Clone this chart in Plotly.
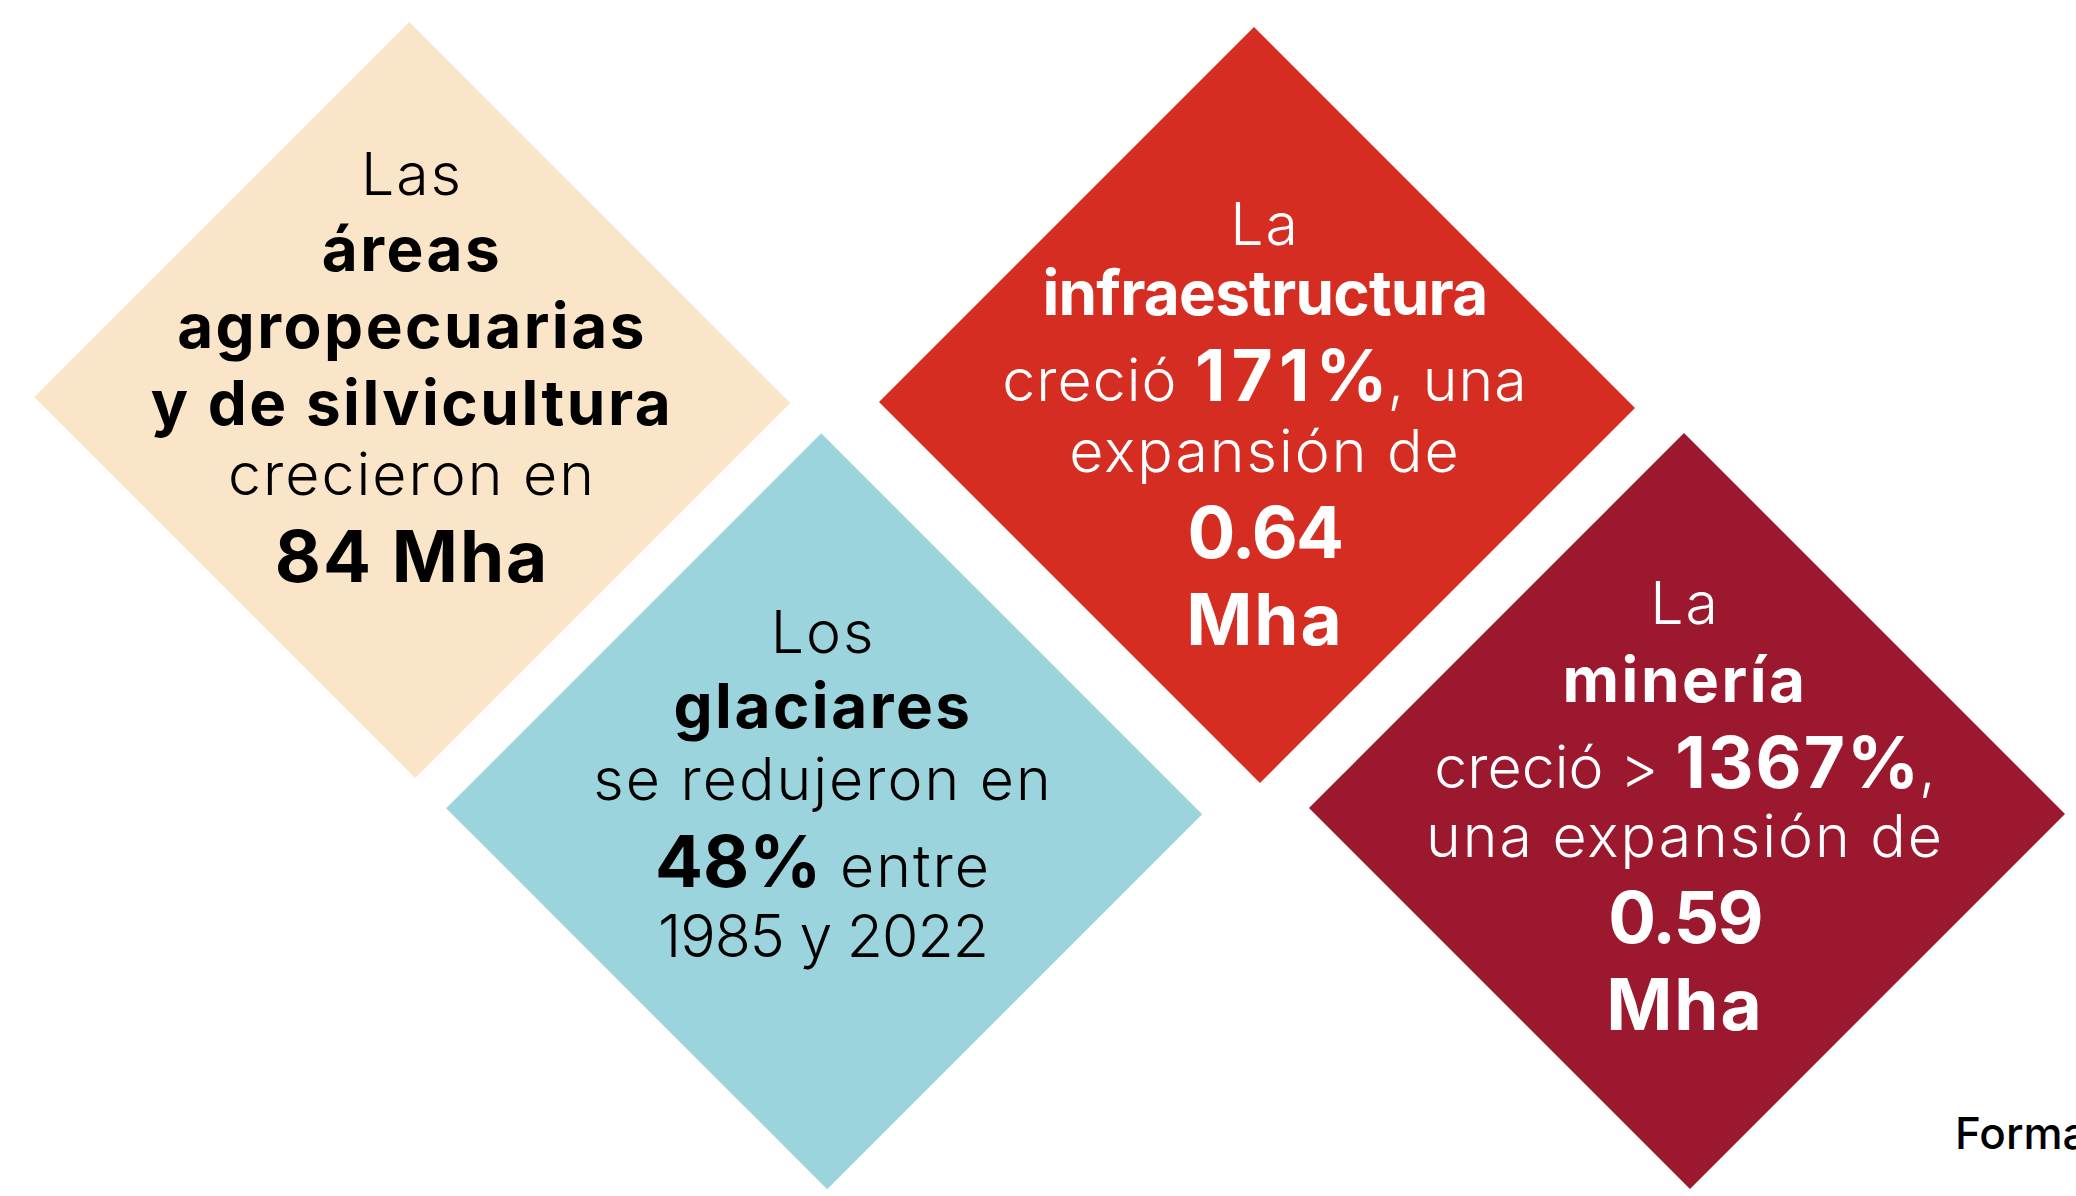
import math
import plotly.graph_objects as go

W, H = 2076, 1196

# ---------------- content ----------------
articles = ["Las", "Los", "La", "La"]
subjects = [["áreas", "agropecuarias", "y de silvicultura"], ["glaciares"], ["infraestructura"], ["minería"]]
verbs = ["crecieron en", "se redujeron en", "creció", "creció >"]
headline_values = ["84 Mha", "48%", "171%", "1367%"]
expansion_mha = ["", "", "0.64", "0.59"]
period = "1985 y 2022"
unit = "Mha"
footer = "Forma"

# ---------------- layout / style (kept apart from content) ----------------
fills = ["#FAE5C9", "#9BD4DC", "#D62D22", "#9C182E"]
ink = ["#000000", "#000000", "#FFFFFF", "#FFFFFF"]
diamond_center = [(412.3, 400.0), (824.2, 811.3), (1257.0, 405.0), (1687.0, 811.0)]
diamond_r = 378.0
tilt_deg = 0.45
text_x = [412, 823, 1265, 1685]
baselines = [
    [195, 270.7, 348, 425, 495, 582],
    [653.3, 728.3, 800, 886.7, 956.7],
    [245, 315, 400.7, 471.7, 558, 645],
    [624, 701.7, 787.7, 857.3, 943.3, 1030],
]
line_spacing = [
    [2.0, 2.5, 2.5, 2.5, 2.0, 2.0],
    [2.0, 2.5, 2.0, 2.0, -1.0],
    [2.0, -0.8, 1.0, 2.0, -1.7, 2.0],
    [2.0, 2.5, 0.0, 2.0, -1.7, 2.0],
]
inline_big_spacing = [2.0, 0.0, 6.0, 2.0]
FAM = "Inter, 'Open Sans', sans-serif"
SIZE = {"L": 59, "B": 62, "BB": 71}
WEIGHT = {"L": 300, "B": 700, "BB": 700}


def big(s, ls):
    # spacing between the glyphs of the value, none after its last glyph
    head, tail = s[:-1], s[-1]
    return (f"<b style='font-size:{SIZE['BB']}px;letter-spacing:{ls}px'>{head}</b>"
            f"<b style='font-size:{SIZE['BB']}px;letter-spacing:0px'>{tail}</b>")


def spaced(ls, s):
    return f"<span style='letter-spacing:{ls}px'>{s}</span>"


lines = [
    [("L", articles[0])] + [("B", s) for s in subjects[0]] + [("L", verbs[0]), ("BB", headline_values[0])],
    [("L", articles[1]), ("B", subjects[1][0]), ("L", verbs[1]),
     ("L", f"{big(headline_values[1], inline_big_spacing[1])} entre"), ("L", period)],
    [("L", articles[2]), ("B", subjects[2][0]),
     ("L", f"{verbs[2]} {big(headline_values[2], inline_big_spacing[2])}, una"),
     ("L", "expansión de"), ("BB", expansion_mha[2]), ("BB", unit)],
    [("L", articles[3]), ("B", subjects[3][0]),
     ("L", f"{verbs[3]} {big(headline_values[3], inline_big_spacing[3])},"),
     ("L", "una expansión de"), ("BB", expansion_mha[3]), ("BB", unit)],
]

fig = go.Figure()

t = math.radians(tilt_deg)
for i, (cx, cy) in enumerate(diamond_center):
    rs, rc = diamond_r * math.sin(t), diamond_r * math.cos(t)
    xs = [cx - rs, cx + rc, cx + rs, cx - rc, cx - rs]
    ys = [cy - rc, cy + rs, cy + rc, cy - rs, cy - rc]
    fig.add_trace(go.Scatter(x=xs, y=ys, mode="lines", fill="toself", fillcolor=fills[i],
                             line=dict(width=0, color=fills[i]), hoverinfo="skip", showlegend=False))

for i, panel in enumerate(lines):
    for j, ((style, txt), base) in enumerate(zip(panel, baselines[i])):
        size = SIZE[style]
        fig.add_trace(go.Scatter(
            x=[text_x[i]], y=[base - 0.25 * size], mode="text", text=[spaced(line_spacing[i][j], txt)],
            textposition="middle center",
            textfont=dict(family=FAM, size=size, color=ink[i], weight=WEIGHT[style]),
            hoverinfo="skip", showlegend=False, cliponaxis=True))

fig.add_trace(go.Scatter(
    x=[1955], y=[1149 - 0.25 * 44], mode="text", text=[footer], textposition="middle right",
    textfont=dict(family=FAM, size=44, color="#000000", weight=500),
    hoverinfo="skip", showlegend=False, cliponaxis=True))

fig.update_layout(
    width=W, height=H, margin=dict(l=0, r=0, t=0, b=0),
    paper_bgcolor="#FFFFFF", plot_bgcolor="#FFFFFF",
    xaxis=dict(range=[0, W], visible=False, fixedrange=True),
    yaxis=dict(range=[H, 0], visible=False, fixedrange=True),
    showlegend=False,
)

fig.write_html("out.html", config={"displayModeBar": False},
               post_script="document.body.style.margin='0';document.body.style.overflow='hidden';")
